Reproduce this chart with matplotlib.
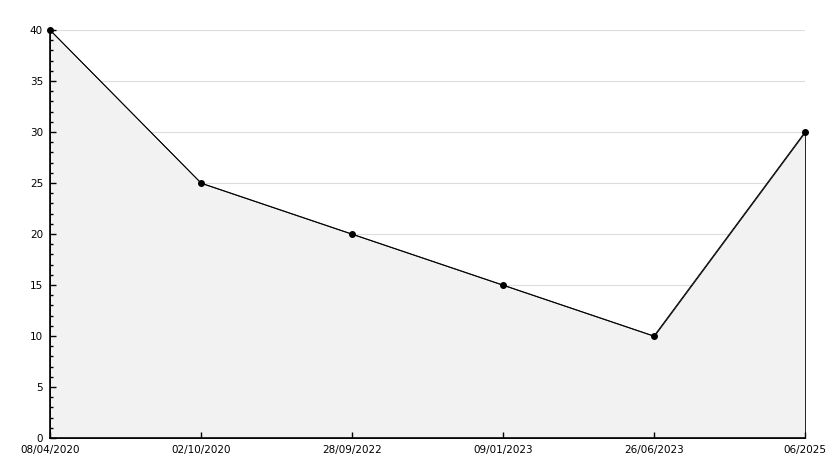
import matplotlib.pyplot as plt
from matplotlib.ticker import MultipleLocator

dates = ["08/04/2020", "02/10/2020", "28/09/2022", "09/01/2023", "26/06/2023", "06/2025"]
values = [40, 25, 20, 15, 10, 30]

x = list(range(len(dates)))

fig = plt.figure(figsize=(8.34, 4.68), dpi=100)
ax = fig.add_axes([50 / 834, 30 / 468, 755 / 834, 408 / 468])

ax.set_xlim(0, len(dates) - 1)
ax.set_ylim(0, 40)
ax.set_xticks(x)
ax.set_xticklabels(dates)
ax.yaxis.set_major_locator(MultipleLocator(5))
ax.yaxis.set_minor_locator(MultipleLocator(1))

# grid lines sit under the filled area, ticks stay on top
for yv in ax.get_yticks():
    if 0 < yv <= 40:
        ax.axhline(yv, color="#dddddd", lw=0.8, zorder=0.5)

ax.fill_between(x, values, 0, facecolor="#f2f2f2", edgecolor="black", lw=0.6, zorder=1)
ax.plot(x, values, color="black", lw=0.7, marker="o", markersize=4, zorder=3, clip_on=False)

ax.spines["top"].set_visible(False)
ax.spines["right"].set_visible(False)
ax.spines["left"].set_linewidth(1.2)
ax.spines["bottom"].set_linewidth(1.2)

ax.tick_params(axis="y", which="major", direction="in", length=4, width=1, labelsize=7.5, pad=5)
ax.tick_params(axis="y", which="minor", direction="in", length=2.5, width=1)
ax.tick_params(axis="x", which="major", direction="in", length=4, width=1, labelsize=7.5, pad=5)

fig.savefig("out.png", dpi=100, facecolor="white")
